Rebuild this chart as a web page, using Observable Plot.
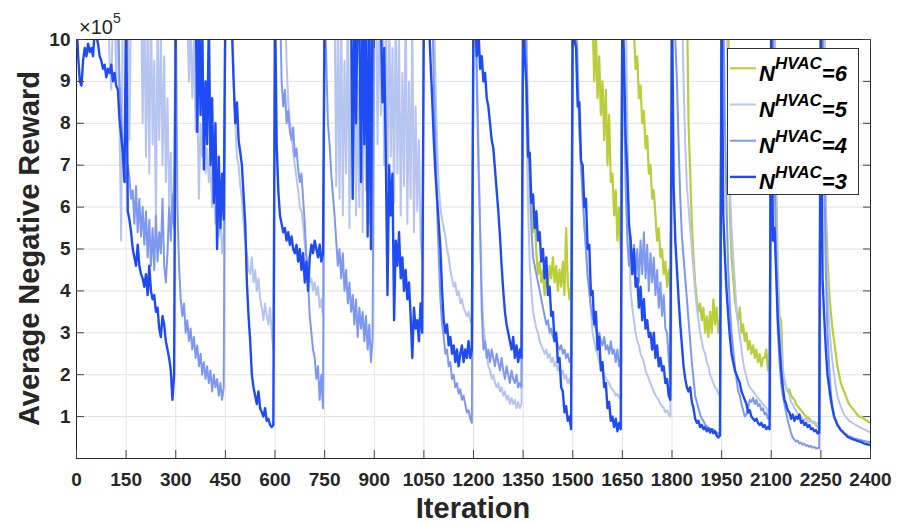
<!DOCTYPE html>
<html><head><meta charset="utf-8">
<script src="https://cdn.jsdelivr.net/npm/d3@7"></script>
<script src="https://cdn.jsdelivr.net/npm/@observablehq/plot@0.6"></script>
<style>
html,body{margin:0;padding:0;background:#fff;}
#chart{width:897px;height:525px;position:relative;}
</style></head><body><div id="chart"></div>
<script>
// ---- axis ticks ----
const xTicks = [0,150,300,450,600,750,900,1050,1200,1350,1500,1650,1800,1950,2100,2250,2400];
const yTicks = [1,2,3,4,5,6,7,8,9,10];
const yExponentLabel = "5";
const xLabel = "Iteration";
const yLabel = "Average Negative Reward";
const legendKeys = ["6","5","4","3"];
const seriesColors = {"6":"#bacd3a","5":"#b6c4f0","4":"#7f98ef","3":"#1f4cf2"};
const seriesWidths = {"6":2.2,"5":2.0,"4":2.0,"3":2.4};
const blockLength = 150, sampleStep = 5;

// ---- series values (x1e5), one sub-array per 150-iteration block, sampled every 5 iterations; 11 = above the top ----
const n3 = [
[10.5,9.6,9.0,8.9,9.5,9.8,9.6,9.9,9.7,9.8,9.6,10.2,10.1,9.9,9.6,9.5,9.3,9.4,9.1,9.3,9.2,9.4,9.0,9.2,8.9,8.8,8.1,7.7,7.3,6.6],
[11,5.9,5.7,5.4,5.0,4.8,4.6,5.1,4.6,4.4,4.3,4.1,4.4,3.9,4.6,4.0,3.8,3.9,3.5,3.6,3.1,2.9,3.4,3.2,2.8,2.6,2.4,2.1,1.4,2.0],
[11,11,11,11,11,11,11,11,11,11,11,11,11,7.8,10.5,8.2,10.5,6.9,9.0,7.5,10.5,7.0,8.6,6.1,8.0,5.0,7.2,5.5,6.8,5.7],
[11,11,11,11,10.2,9.0,8.0,8.5,7.6,7.3,7.0,6.3,5.6,4.2,3.4,2.8,2.0,1.7,1.5,1.3,1.6,1.2,1.1,1.0,1.2,0.9,0.95,0.8,0.75,0.8],
[11,7.5,6.4,5.8,5.6,5.4,5.5,5.2,5.4,5.1,5.3,5.0,4.9,5.1,4.7,5.0,4.5,4.9,4.2,4.7,4.0,4.8,5.1,4.9,5.2,5.0,4.8,5.1,4.7,4.9],
[11,11,11,11,11,11,11,11,11,11,11,11,11,11,11,11,11,6.2,11,8.0,11,10.5,6.6,11,7.5,11,5.3,11,5.0,11],
[11,11,11,11,10.5,8.5,9.8,7.2,3.9,7.0,5.8,6.8,3.3,5.2,4.6,5.4,4.3,4.8,4.0,4.5,3.8,4.2,3.4,2.4,3.6,3.1,3.3,2.8,3.7,3.0],
[11,11,11,10.5,9.5,8.6,7.6,6.8,6.2,5.6,5.0,4.0,3.3,3.0,3.2,2.7,2.9,2.5,2.7,2.3,2.6,2.2,2.5,2.7,2.3,2.6,2.4,2.8,2.4,2.6],
[11,10.5,9.6,10.2,9.3,9.6,9.0,9.2,8.6,8.4,8.0,7.6,7.4,6.9,6.4,5.9,5.3,4.6,4.0,3.5,3.2,3.0,2.8,2.6,2.9,2.4,2.7,2.3,2.6,2.4],
[11,9.6,8.9,7.2,7.3,6.1,6.3,5.5,5.9,5.2,5.4,4.7,5.0,4.3,4.8,3.9,4.1,3.4,3.5,2.8,3.0,2.3,2.4,1.7,1.6,1.1,1.25,0.9,1.0,0.7],
[11,10.0,9.8,8.4,8.5,7.1,7.0,6.0,6.2,5.0,5.1,3.9,4.0,3.2,3.5,2.6,2.9,2.1,2.3,1.7,1.8,1.2,1.35,0.9,1.0,0.75,0.95,0.65,0.85,0.7],
[11,9.5,7.6,6.8,5.6,5.2,4.4,5.0,4.1,4.3,3.6,4.1,3.3,3.8,3.1,3.3,2.9,3.0,2.6,3.0,2.4,2.7,2.2,2.4,2.1,2.2,1.8,1.9,1.5,1.4],
[11,6.5,5.2,4.5,3.8,3.2,2.7,2.2,1.9,1.7,1.6,1.7,1.35,1.2,0.95,0.85,0.9,0.75,0.8,0.7,0.75,0.65,0.72,0.62,0.7,0.6,0.65,0.55,0.5,0.55],
[11,5.8,4.8,4.0,3.4,2.9,2.5,2.3,2.1,2.0,1.9,1.8,1.6,1.5,1.4,1.3,1.1,1.15,1.0,0.95,0.9,0.95,0.85,0.8,0.85,0.75,0.8,0.7,0.75,0.7],
[11,5.2,5.5,4.4,3.3,2.7,2.1,1.7,1.4,1.3,1.15,1.1,0.95,1.05,0.9,1.0,0.95,1.05,0.85,0.9,0.8,0.85,0.75,0.8,0.7,0.72,0.65,0.68,0.6,0.62],
[11,4.3,3.4,2.6,2.0,1.7,1.4,1.2,1.0,0.9,0.8,0.75,0.68,0.65,0.6,0.57,0.52,0.5,0.48,0.47,0.45,0.44,0.42,0.41,0.4,0.38,0.36,0.35,0.34,0.33,0.32]
];
const n4 = [
[11,11,11,11,11,11,11,11,11,11,11,11,11,11,11,11,11,11,11,11,11,11,11,11,11,11,9.0,8.2,7.4,6.8],
[6.6,7.0,6.7,6.2,6.4,5.6,6.5,5.4,6.2,5.3,6.0,5.1,5.9,4.8,5.7,4.6,5.5,4.5,5.8,4.7,5.4,4.9,6.2,4.6,4.2,4.9,6.0,5.2,6.3,5.5],
[11,6.0,4.6,3.8,3.4,3.7,3.0,3.3,2.8,3.1,2.6,2.9,2.4,2.7,2.2,2.5,2.0,2.3,1.9,2.2,1.8,2.1,1.6,2.0,1.7,1.9,1.5,1.8,1.4,1.7],
[11,11,11,11,11,11,11,11,11,11,11,11,11,11,11,11,11,11,11,11,11,11,11,11,11,11,11,11,11,11],
[11,11,11,11,9.0,8.4,8.8,8.0,8.3,7.8,7.6,7.9,7.2,7.4,6.9,6.6,6.8,6.2,5.6,4.8,4.2,3.4,3.0,2.6,2.4,1.9,2.2,1.4,2.0,1.2],
[11,9.5,8.0,7.5,6.8,6.3,5.8,5.2,4.6,5.0,4.3,4.9,4.0,4.5,3.7,4.2,3.5,3.9,3.2,3.8,2.9,3.6,3.1,3.5,2.8,3.4,2.6,3.2,2.3,2.9],
[11,11,11,11,11,11,11,11,11,11,11,11,11,11,11,11,11,11,11,11,11,11,11,11,11,11,11,11,11,11],
[11,11,11,11,11,11,9.0,7.5,6.0,4.8,3.8,3.2,2.9,2.5,2.6,2.2,2.3,1.9,2.0,1.7,1.8,1.55,1.65,1.4,1.5,1.3,1.1,1.15,0.95,0.85],
[11,11,9.0,7.0,5.5,3.5,2.6,2.8,2.4,2.6,2.3,2.6,2.4,2.2,2.5,2.3,2.1,2.4,2.1,1.9,2.2,2.0,1.8,2.1,1.9,1.8,2.0,1.7,1.8,1.7],
[11,11,10,8.0,6.5,5.5,4.8,4.6,4.4,4.2,4.0,3.8,3.6,3.4,3.2,3.3,3.0,3.1,2.9,2.8,2.9,2.7,2.6,2.7,2.5,2.6,2.4,2.5,2.3,2.4],
[11,11,10.5,9.0,7.8,7.0,6.3,5.6,5.0,4.4,4.0,3.6,3.4,3.2,3.1,2.9,3.0,2.8,2.7,2.9,2.6,2.7,2.5,2.8,2.5,2.6,2.3,2.6,2.2,2.4],
[11,8.5,6.5,5.2,4.6,5.3,4.4,5.1,4.3,5.0,4.2,5.2,4.4,5.4,4.3,5.1,4.0,4.9,4.2,4.8,3.9,4.5,3.6,4.2,3.4,3.9,3.1,3.0,2.4,1.8],
[11,11,10,9.0,7.5,6.2,5.3,4.8,4.3,3.8,3.3,2.8,2.3,1.9,1.5,1.35,1.2,1.05,0.95,0.9,0.8,0.78,0.7,0.72,0.68,0.7,0.65,0.62,0.6,0.58],
[11,11,8.0,6.0,4.5,3.6,3.0,2.6,2.2,1.9,1.6,1.5,1.3,1.15,1.0,1.05,1.2,1.4,1.35,1.45,1.3,1.4,1.25,1.3,1.15,1.2,1.05,1.1,0.95,1.0],
[11,11,7.0,4.5,3.0,2.3,1.8,1.5,1.3,1.1,0.9,0.75,0.6,0.5,0.45,0.4,0.43,0.36,0.38,0.33,0.35,0.3,0.32,0.28,0.3,0.26,0.28,0.24,0.25,0.24],
[11,11,7.0,4.5,3.0,2.2,1.6,1.2,1.0,0.9,0.8,0.72,0.68,0.64,0.6,0.58,0.55,0.53,0.52,0.5,0.48,0.47,0.46,0.45,0.44,0.43,0.42,0.41,0.4,0.4,0.39]
];
const n5 = [
[11,11,11,11,11,11,11,11,11,11,11,11,11,11,11,11,11,11,11,11,9.5,8.8,10.5,11,9.0,11,8.0,5.2,11,11],
[11,11,7.6,11,11,11,11,11,11,11,8.0,11,7.2,10.5,6.8,11,7.5,9.5,5.6,10.5,7.6,10.2,7.0,9.6,6.6,8.6,6.0,7.3,5.6,6.6],
[11,11,11,11,11,11,11,10.5,9.0,10.5,8.6,10.0,7.8,8.8,6.2,8.0,7.2,7.8,6.8,7.4,6.6,7.0,6.0,6.5,5.6,6.1,5.3,5.8,4.9,5.4],
[11,11,11,11,10.5,9.0,8.0,7.2,7.0,6.5,6.2,5.6,5.2,4.9,4.5,4.4,4.8,4.2,4.5,4.0,4.3,3.8,3.6,3.3,3.7,3.4,3.2,3.6,3.0,2.6],
[11,11,11,11,11,11,11,9.5,8.5,8.0,7.8,7.3,7.0,6.7,6.4,6.0,5.9,5.6,5.1,4.8,4.4,4.2,4.3,4.0,4.2,3.9,4.1,3.6,3.8,3.4],
[11,11,11,11,11,11,11,6.5,10.5,6.2,11,5.8,9.5,6.8,11,5.5,10,6.2,11,5.8,9.0,6.0,11,5.4,10.5,6.4,9.5,5.6,11,6.0],
[11,11,7.5,11,8.2,11,7.0,10.5,6.5,11,7.2,9.8,6.1,11,6.8,10.0,5.8,9.2,6.5,11,5.6,9.0,6.2,10.5,5.4,8.4,5.9,7.6,5.2,4.8],
[11,11,11,11,11,11,11,9.0,7.5,6.5,6.0,5.7,5.5,5.3,5.0,4.8,4.5,4.3,4.1,4.2,3.9,4.0,3.7,3.8,3.6,3.5,3.4,3.5,3.3,3.2],
[11,11,9.5,7.5,5.5,4.0,3.2,2.8,2.5,2.2,2.1,1.9,2.0,1.8,1.7,1.8,1.6,1.7,1.5,1.6,1.4,1.5,1.3,1.45,1.3,1.4,1.2,1.35,1.2,1.3],
[11,11,8.0,6.0,4.6,4.0,3.5,3.3,3.1,3.0,2.8,2.7,2.6,2.5,2.6,2.4,2.5,2.3,2.4,2.2,2.3,2.1,2.2,2.0,2.1,1.9,2.0,1.8,1.9,1.7],
[11,11,11,9.5,8.0,7.0,6.2,5.5,5.0,4.3,4.0,3.5,3.0,2.8,2.6,2.5,2.3,2.2,2.1,2.0,1.9,1.85,1.8,1.7,1.65,1.6,1.5,1.55,1.45,1.4],
[11,11,11,8.0,5.5,4.0,3.6,3.3,3.0,2.8,2.7,2.5,2.4,2.3,2.1,2.0,1.9,1.8,1.7,1.6,1.5,1.45,1.4,1.3,1.25,1.2,1.1,1.15,1.05,1.0],
[11,11,11,11,11,11,11,9.0,7.5,6.5,6.0,5.5,5.0,4.5,4.0,3.6,3.3,3.0,2.8,2.6,2.5,2.3,2.2,2.0,1.9,1.8,1.7,1.65,1.55,1.5],
[11,11,11,11,8.0,6.5,5.5,4.8,4.2,3.6,3.2,2.9,2.6,2.3,2.1,1.95,1.8,1.7,1.65,1.6,1.55,1.5,1.45,1.4,1.35,1.3,1.25,1.2,1.15,1.1],
[11,11,11,6.0,4.0,3.2,2.6,2.1,1.9,1.7,1.6,1.5,1.35,1.3,1.2,1.15,1.05,1.05,1.0,0.95,0.92,0.95,0.9,0.88,0.9,0.85,0.88,0.82,0.85,0.8],
[11,11,11,5.5,4.2,3.2,2.7,2.3,2.0,1.7,1.5,1.35,1.25,1.15,1.05,1.0,0.95,0.9,0.88,0.85,0.83,0.8,0.78,0.76,0.74,0.72,0.7,0.68,0.66,0.64,0.62]
];
const n6 = [
[],[],[],[],[],[],[],[],[],
[null,null,null,null,null,6.2,5.4,5.8,4.9,4.4,4.7,4.2,4.5,3.9,4.4,4.1,4.6,4.3,4.8,4.2,4.6,4.0,4.5,4.1,4.7,3.9,5.5,4.2,3.8,4.1],
[11,11,11,11,11,11,11,11,11,11,11,11,10.5,9.0,10.2,8.6,9.6,8.2,9.0,7.6,8.8,7.0,8.2,6.6,6.8,5.8,6.4,5.2,6.0,5.0],
[11,11,11,11,11,11,11,10.2,9.3,9.6,8.6,8.9,8.0,8.3,7.4,7.7,6.8,7.0,6.2,6.4,5.8,5.2,5.5,4.8,5.0,4.4,4.7,4.1,4.5,4.0],
[11,11,11,11,11,11,11,11,11,11,8.0,6.8,5.6,4.8,4.2,3.8,3.5,3.7,3.3,3.6,3.0,3.4,2.9,3.5,3.0,3.8,3.2,3.6,3.0,3.3],
[11,11,11,11,11,5.8,4.8,4.3,3.8,3.5,3.3,3.6,3.0,3.2,2.8,3.0,2.6,2.8,2.5,2.7,2.4,2.6,2.3,2.5,2.2,2.4,2.4,2.6,2.1,2.3],
[11,11,11,6.5,4.5,3.4,3.3,2.1,1.8,1.7,1.6,1.65,1.5,1.45,1.4,1.3,1.25,1.2,1.15,1.1,1.05,1.0,0.98,0.95,0.9,0.88,0.85,0.8,0.75,0.7],
[11,11,11,6.0,4.8,4.0,3.5,3.1,2.8,2.5,2.2,2.0,1.8,1.7,1.6,1.5,1.4,1.3,1.25,1.2,1.15,1.1,1.05,1.0,1.0,0.97,0.95,0.92,0.9,0.87,0.85]
];

function toRows(blocks) {
  const rows = [];
  blocks.forEach((blk, b) => blk.forEach((v, i) => rows.push({it: b * blockLength + i * sampleStep, v})));
  return rows;
}
const seriesData = {"6": toRows(n6), "5": toRows(n5), "4": toRows(n4), "3": toRows(n3)};

const FONT = "'Liberation Sans', Arial, Helvetica, sans-serif";
const tickColor = "#262626";

const chart = Plot.plot({
  width: 897, height: 525,
  marginLeft: 76, marginRight: 27, marginTop: 39, marginBottom: 67,
  style: {fontFamily: FONT, background: "#fff", overflow: "visible"},
  x: {domain: [0, 2400]},
  y: {domain: [0, 10]},
  marks: [
    Plot.gridX(xTicks, {stroke: "#e2e2e2", strokeOpacity: 1}),
    Plot.gridY(yTicks, {stroke: "#e2e2e2", strokeOpacity: 1}),
    ...legendKeys.map(k => Plot.line(seriesData[k], {x: "it", y: "v", stroke: seriesColors[k], strokeWidth: seriesWidths[k], clip: true})),
    Plot.frame({stroke: tickColor, strokeWidth: 1}),
    Plot.axisX(xTicks, {anchor: "bottom", tickSize: 0, tickPadding: 14, tickFormat: "d", fontSize: 19, fontWeight: "bold", fill: tickColor, label: null}),
    Plot.axisX(xTicks, {anchor: "bottom", tickSize: -8, fill: "none", stroke: "#444", label: null}),
    Plot.axisX(xTicks, {anchor: "top", tickSize: -8, fill: "none", stroke: "#444", label: null}),
    Plot.axisY(yTicks, {anchor: "left", tickSize: 0, tickPadding: 6, fontSize: 19, fontWeight: "bold", fill: tickColor, label: null}),
    Plot.axisY(yTicks, {anchor: "left", tickSize: -8, fill: "none", stroke: "#444", label: null}),
    Plot.axisY(yTicks, {anchor: "right", tickSize: -8, fill: "none", stroke: "#444", label: null})
  ]
});
document.getElementById("chart").appendChild(chart);

const svg = d3.select(chart);
// axis titles
svg.append("text")
  .attr("transform", "translate(38.5,248.5) rotate(-90)")
  .attr("text-anchor", "middle")
  .attr("fill", tickColor)
  .style("font", `bold 29px ${FONT}`)
  .text(yLabel);
svg.append("text")
  .attr("x", 473).attr("y", 518)
  .attr("text-anchor", "middle")
  .attr("fill", tickColor)
  .style("font", `bold 29px ${FONT}`)
  .text(xLabel);
// exponent
const ex = svg.append("text").attr("x", 79).attr("y", 34).attr("text-anchor", "start")
  .attr("fill", tickColor).style("font", `20px ${FONT}`);
ex.append("tspan").text("\u00d710");
ex.append("tspan").attr("dy", -11).style("font-size", "14px").text(yExponentLabel);

// legend
const lg = svg.append("g");
lg.append("rect").attr("x", 727.5).attr("y", 48.5).attr("width", 131).attr("height", 146)
  .attr("fill", "#fff").attr("stroke", "#333").attr("stroke-width", 1);
legendKeys.forEach((k, i) => {
  const y = 68.3 + i * 36.2;
  lg.append("line").attr("x1", 730).attr("x2", 756).attr("y1", y).attr("y2", y)
    .attr("stroke", seriesColors[k]).attr("stroke-width", seriesWidths[k]);
  const t = lg.append("text").attr("x", 759).attr("y", y + 12.5).attr("text-anchor", "start")
    .attr("fill", "#000").style("font", `italic bold 22px ${FONT}`);
  t.append("tspan").text("N");
  t.append("tspan").attr("dy", -11.5).style("font-size", "17px").text("HVAC");
  t.append("tspan").attr("dy", 11.5).text("=" + k);
});
</script>
</body></html>
